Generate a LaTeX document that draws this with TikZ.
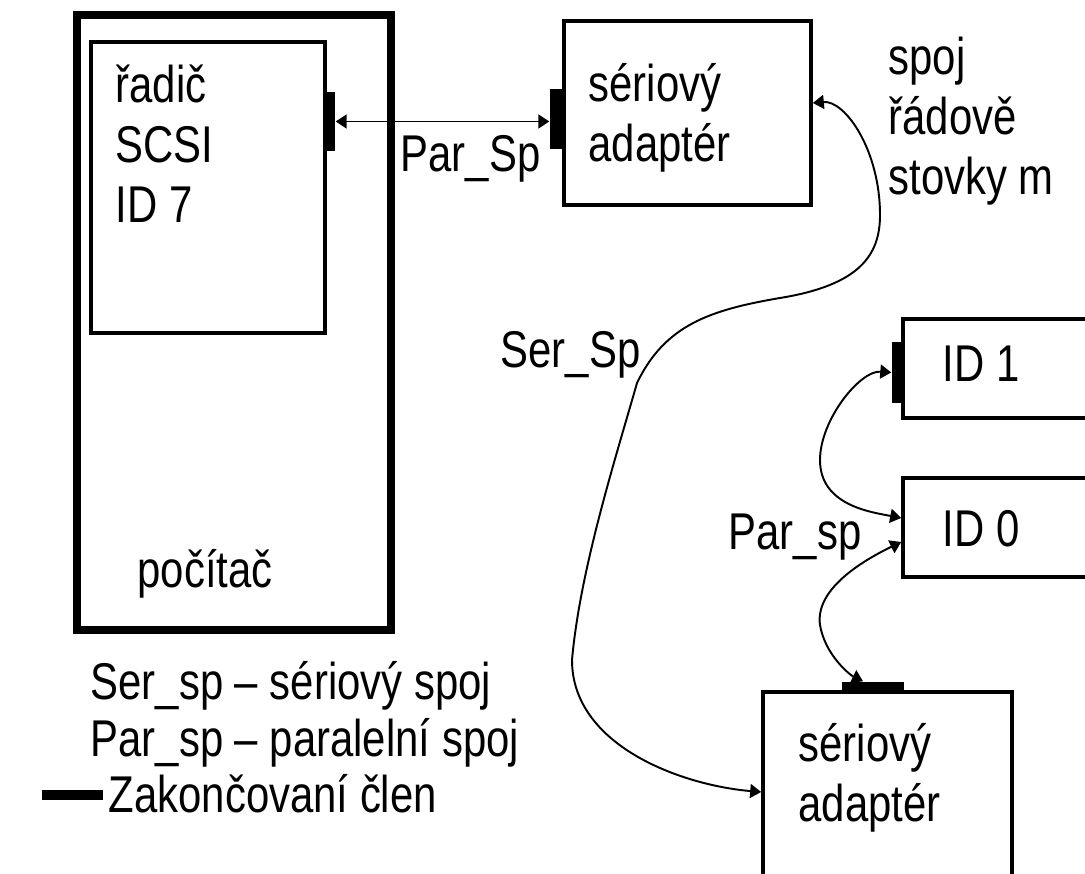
\documentclass[tikz,border=0pt]{standalone}
\usepackage{fontspec}
\setmainfont{Liberation Sans}[FakeStretch=0.81]
\usepackage{tikz}
\usetikzlibrary{arrows.meta}
\tikzstyle{computer} = [rectangle, draw=black, line width=2.3pt, inner sep=0pt]
\tikzstyle{unit} = [rectangle, draw=black, line width=1pt, inner sep=0pt]
\tikzstyle{term} = [rectangle, fill=black, inner sep=0pt]
\tikzstyle{txt} = [align=left, inner sep=0pt, anchor=base west, font=\fontsize{14.7}{17.2}\selectfont]
\tikzstyle{link} = [line width=0.55pt, {Triangle[length=0.11cm,width=0.14cm]}-{Triangle[length=0.11cm,width=0.14cm]}]

\begin{document}
\begin{tikzpicture}[x=0.01cm, y=-0.01cm]
	\useasboundingbox (0,0) rectangle (1085,874);
	\clip (0,0) rectangle (1085,874);

	% skrine a jednotky
	\node(pc) [computer, minimum width=3.14cm, minimum height=6.15cm] at (234,322.5) {};
	\node(ctrl) [unit, minimum width=2.34cm, minimum height=2.91cm] at (208,187.5) {};
	\node(adA) [unit, minimum width=2.47cm, minimum height=1.84cm] at (687.5,113) {};
	\node(id1) [unit, minimum width=2.07cm, minimum height=0.99cm] at (1006.5,368.5) {};
	\node(id0) [unit, minimum width=2.07cm, minimum height=0.99cm] at (1006.5,527.5) {};
	\node(adB) [unit, minimum width=2.49cm, minimum height=2.0cm] at (887.5,792) {};

	% zakoncovaci cleny
	\node(t1) [term, minimum width=0.12cm, minimum height=0.59cm] at (329,121.5) {};
	\node(t2) [term, minimum width=0.12cm, minimum height=0.60cm] at (556,119) {};
	\node(t3) [term, minimum width=0.11cm, minimum height=0.61cm] at (897.5,372.5) {};
	\node(t4) [term, minimum width=0.62cm, minimum height=0.11cm] at (873,687.5) {};
	\node(legbar) [term, minimum width=0.61cm, minimum height=0.10cm] at (72.5,795) {};

	% popisky (base = posledni radek)
	\node(ctrltxt) [txt] at (115,223) {řadič\\SCSI\\ID 7};
	\node(pctxt) [txt] at (137,588) {počítač};
	\node(adAtxt) [txt] at (588,162) {sériový\\adaptér};
	\node(adBtxt) [txt] at (798,822) {sériový\\adaptér};
	\node(id1txt) [txt] at (942,382) {ID 1};
	\node(id0txt) [txt] at (942,547) {ID 0};
	\node(note) [txt] at (888,195) {spoj\\řádově\\stovky m};
	\node(parA) [txt] at (400,172) {Par\_Sp};
	\node(ser) [txt] at (500,368) {Ser\_Sp};
	\node(parB) [txt] at (728,550) {Par\_sp};
	\node(leg1) [txt] at (90,700) {Ser\_sp – sériový spoj};
	\node(leg2) [txt] at (90,757) {Par\_sp – paralelní spoj};
	\node(leg3) [txt] at (108,813) {Zakončovaní člen};

	% spoje
	\draw[link] (t1.east) -- (t1.east -| t2.west);
	\draw[link] ([yshift=0.1cm]adA.east) .. controls (845,100) and (880,150) .. (880,215)
		.. controls (880,255) and (860,285) .. (780,298)
		.. controls (710,310) and (665,325) .. (637,383)
		.. controls (615,460) and (580,570) .. (572,660)
		.. controls (572,745) and (680,785) .. (adB.west);
	\draw[link] (t3.west) .. controls (860,370) and (820,420) .. (820,460)
		.. controls (820,505) and (870,512) .. ([yshift=0.095cm]id0.west);
	\draw[link] ([yshift=-0.145cm]id0.west) .. controls (860,562) and (815,590) .. (820,625)
		.. controls (825,655) and (850,675) .. ([xshift=-0.1cm]t4.north);
\end{tikzpicture}
\end{document}
